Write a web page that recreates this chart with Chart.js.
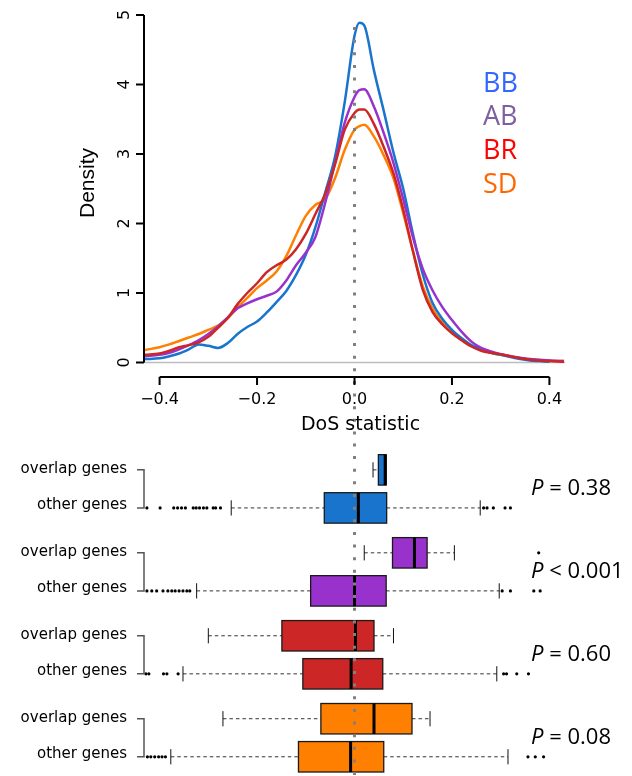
<!DOCTYPE html>
<html>
<head>
<meta charset="utf-8">
<script src="https://cdn.jsdelivr.net/npm/chart.js@4"></script>
<style>
  html, body { margin: 0; padding: 0; background: #fff; }
  #wrap { position: relative; width: 632px; height: 776px; overflow: hidden; }
  canvas { position: absolute; left: 0; }
  #densityChart { top: 0; }
  #boxChart { top: 440px; }
</style>
</head>
<body>
<div id="wrap">
  <canvas id="densityChart" width="632" height="440"></canvas>
  <canvas id="boxChart" width="632" height="336"></canvas>
</div>
<script>
// --- data ---
const groups = ["BB", "AB", "BR", "SD"];
const dosX = [-0.43, -0.40, -0.38, -0.36, -0.34, -0.32, -0.30, -0.28, -0.26, -0.24,
              -0.22, -0.20, -0.18, -0.16, -0.14, -0.12, -0.10, -0.08, -0.06, -0.04,
              -0.02, 0.00, 0.01, 0.02, 0.04, 0.06, 0.08, 0.10, 0.12, 0.14,
              0.16, 0.18, 0.20, 0.22, 0.24, 0.26, 0.28, 0.30, 0.32, 0.34,
              0.36, 0.38, 0.40, 0.43];
const densityBB = [0.05, 0.06, 0.09, 0.13, 0.19, 0.26, 0.24, 0.21, 0.28, 0.41,
                   0.51, 0.59, 0.72, 0.87, 1.03, 1.26, 1.55, 1.95, 2.45, 2.96,
                   3.75, 4.70, 4.89, 4.85, 4.20, 3.62, 3.02, 2.50, 1.85, 1.27,
                   0.86, 0.63, 0.47, 0.35, 0.25, 0.19, 0.14, 0.11, 0.08, 0.05,
                   0.03, 0.02, 0.01, null];
const densityAB = [0.09, 0.11, 0.14, 0.19, 0.25, 0.32, 0.41, 0.52, 0.65, 0.78,
                   0.85, 0.91, 0.96, 1.02, 1.18, 1.40, 1.58, 1.81, 2.30, 2.87,
                   3.45, 3.82, 3.92, 3.93, 3.68, 3.30, 2.87, 2.35, 1.80, 1.35,
                   1.04, 0.80, 0.61, 0.44, 0.30, 0.21, 0.16, 0.12, 0.09, 0.07,
                   0.05, 0.04, 0.03, 0.02];
const densityBR = [0.11, 0.13, 0.17, 0.22, 0.25, 0.29, 0.37, 0.50, 0.64, 0.84,
                   1.00, 1.14, 1.30, 1.40, 1.48, 1.63, 1.85, 2.14, 2.43, 2.85,
                   3.35, 3.59, 3.64, 3.64, 3.43, 3.10, 2.72, 2.20, 1.60, 1.05,
                   0.73, 0.55, 0.42, 0.32, 0.23, 0.17, 0.14, 0.12, 0.09, 0.06,
                   0.04, 0.03, 0.02, 0.01];
const densitySD = [0.18, 0.22, 0.26, 0.31, 0.36, 0.41, 0.47, 0.53, 0.64, 0.79,
                   0.93, 1.07, 1.18, 1.31, 1.53, 1.83, 2.11, 2.27, 2.35, 2.65,
                   3.06, 3.35, 3.40, 3.42, 3.25, 2.98, 2.65, 2.15, 1.60, 1.10,
                   0.78, 0.58, 0.44, 0.33, 0.24, 0.18, 0.14, 0.11, 0.09, 0.06,
                   0.04, 0.03, 0.025, 0.02];
const xTicks = [-0.4, -0.2, 0.0, 0.2, 0.4];
const yTicks = [0, 1, 2, 3, 4, 5];

// box plots: rows = BB overlap, BB other, AB overlap, AB other, BR overlap, BR other, SD overlap, SD other
const rowLabels = ["overlap genes", "other genes"];
const whiskerLow  = [0.038, -0.253, 0.020, -0.324, -0.300, -0.352, -0.270, -0.377];
const quartile1   = [0.049, -0.062, 0.078, -0.090, -0.149, -0.106, -0.069, -0.115];
const medians     = [0.063,  0.008, 0.123,  0.000,  0.002, -0.007,  0.040, -0.008];
const quartile3   = [0.065,  0.066, 0.149,  0.065,  0.040,  0.058,  0.118,  0.060];
const whiskerHigh = [0.065,  0.258, 0.205,  0.297,  0.080,  0.292,  0.155,  0.315];
const outliers = [
  [],
  [-0.426, -0.399, -0.371, -0.363, -0.355, -0.347, -0.331, -0.325, -0.318, -0.31, -0.303, -0.29, -0.285, -0.275,
   0.265, 0.272, 0.285, 0.309, 0.32],
  [0.378],
  [-0.426, -0.416, -0.406, -0.393, -0.383, -0.375, -0.368, -0.36, -0.352, -0.344, -0.338,
   0.303, 0.32, 0.368, 0.381],
  [],
  [-0.428, -0.422, -0.392, -0.385, -0.362, 0.306, 0.312, 0.333, 0.357],
  [],
  [-0.425, -0.418, -0.41, -0.402, -0.395, -0.388, 0.356, 0.371, 0.388]
];
const pLabels = ["= 0.38", "< 0.001", "= 0.60", "= 0.08"];

// --- styles ---
const lineColors = { BB: "#1874CD", AB: "#9932CC", BR: "#CD2626", SD: "#FF7F00" };
const legendColors = { BB: "#3366FF", AB: "#7F5FA0", BR: "#FF0000", SD: "#FF6600" };

function rowPos(i) { return Math.floor(i / 2) * 2.18 + (i % 2); }

// dotted zero line, shared between both canvases
function drawZeroDots(chart, yStart, offset) {
  const ctx = chart.ctx;
  const x = chart.scales.x.getPixelForValue(0);
  ctx.save();
  ctx.strokeStyle = "#808080";
  ctx.lineWidth = 3;
  ctx.setLineDash([3, 9.64]);
  ctx.lineDashOffset = offset;
  ctx.beginPath();
  ctx.moveTo(x, yStart);
  ctx.lineTo(x, chart.height);
  ctx.stroke();
  ctx.restore();
}

const densityDecor = {
  id: "densityDecor",
  beforeDatasetsDraw(chart) {
    const { ctx, chartArea, scales } = chart;
    const y0 = scales.y.getPixelForValue(0);
    ctx.save();
    ctx.strokeStyle = "#bdbdbd";
    ctx.lineWidth = 1.5;
    ctx.beginPath();
    ctx.moveTo(chartArea.left, y0);
    ctx.lineTo(chartArea.right, y0);
    ctx.stroke();
    ctx.restore();
  },
  afterDatasetsDraw(chart) {
    drawZeroDots(chart, 27, 0);
  },
  afterDraw(chart) {
    const { ctx, scales } = chart;
    const xs = scales.x, ys = scales.y;
    ctx.save();
    ctx.strokeStyle = "#000";
    ctx.fillStyle = "#000";
    ctx.lineWidth = 2;
    // y axis
    const axX = 144;
    ctx.beginPath();
    ctx.moveTo(axX, ys.getPixelForValue(yTicks[0]));
    ctx.lineTo(axX, ys.getPixelForValue(yTicks[yTicks.length - 1]));
    yTicks.forEach(t => {
      const py = ys.getPixelForValue(t);
      ctx.moveTo(axX, py);
      ctx.lineTo(axX - 8, py);
    });
    ctx.stroke();
    ctx.font = "16px 'DejaVu Sans', sans-serif";
    ctx.textAlign = "center";
    ctx.textBaseline = "alphabetic";
    yTicks.forEach(t => {
      const py = ys.getPixelForValue(t);
      ctx.save();
      ctx.translate(128.5, py);
      ctx.rotate(-Math.PI / 2);
      ctx.fillText(String(t), 0, 0);
      ctx.restore();
    });
    // x axis
    const axY = 377;
    ctx.beginPath();
    ctx.moveTo(xs.getPixelForValue(xTicks[0]), axY);
    ctx.lineTo(xs.getPixelForValue(xTicks[xTicks.length - 1]), axY);
    xTicks.forEach(t => {
      const px = xs.getPixelForValue(t);
      ctx.moveTo(px, axY);
      ctx.lineTo(px, axY + 8);
    });
    ctx.stroke();
    xTicks.forEach(t => {
      const px = xs.getPixelForValue(t);
      ctx.fillText(t.toFixed(1).replace("-", "\u2212"), px, 403.5);
    });
    // axis titles
    ctx.font = "21px 'Liberation Sans', Arial, sans-serif";
    ctx.save();
    ctx.translate(93.5, 183);
    ctx.rotate(-Math.PI / 2);
    ctx.fillText("Density", 0, 0);
    ctx.restore();
    ctx.font = "19px 'DejaVu Sans', sans-serif";
    ctx.fillText("DoS statistic", 360.5, 430);
    // legend
    ctx.font = "27px 'Open Sans', sans-serif";
    ctx.textAlign = "left";
    groups.forEach((g, i) => {
      ctx.fillStyle = legendColors[g];
      ctx.fillText(g, 483, 91.5 + i * 33.7);
    });
    ctx.restore();
  }
};

const densitySeries = { BB: densityBB, AB: densityAB, BR: densityBR, SD: densitySD };
const drawOrder = { BR: 0, AB: 1, BB: 2, SD: 3 };

new Chart(document.getElementById("densityChart"), {
  type: "line",
  data: {
    datasets: groups.map(g => ({
      label: g,
      data: dosX.map((x, i) => ({ x: x, y: densitySeries[g][i] })),
      borderColor: lineColors[g],
      borderWidth: 2.5,
      pointRadius: 0,
      fill: false,
      cubicInterpolationMode: "monotone",
      order: drawOrder[g]
    }))
  },
  options: {
    responsive: false,
    animation: false,
    layout: { padding: { left: 144, right: 67, top: 8.05, bottom: 63.6 } },
    plugins: { legend: { display: false }, tooltip: { enabled: false } },
    scales: {
      x: { type: "linear", min: -0.432, max: 0.432, display: false },
      y: { type: "linear", min: -0.2, max: 5.1, display: false }
    }
  },
  plugins: [densityDecor]
});

// --- box plots ---
const boxDecor = {
  id: "boxDecor",
  beforeDatasetsDraw(chart) {
    const { ctx, scales } = chart;
    const xs = scales.x, ys = scales.y;
    ctx.save();
    medians.forEach((m, i) => {
      const g = groups[Math.floor(i / 2)];
      const yc = ys.getPixelForValue(rowPos(i));
      const half = Math.abs(ys.getPixelForValue(rowPos(i) + 0.4) - yc);
      const stap = half / 2;
      const xLo = xs.getPixelForValue(whiskerLow[i]);
      const xQ1 = xs.getPixelForValue(quartile1[i]);
      const xMd = xs.getPixelForValue(m);
      const xQ3 = xs.getPixelForValue(quartile3[i]);
      const xHi = xs.getPixelForValue(whiskerHigh[i]);
      // whiskers
      ctx.strokeStyle = "#333";
      ctx.lineWidth = 1;
      ctx.setLineDash([3.5, 3]);
      ctx.beginPath();
      if (xLo < xQ1) { ctx.moveTo(xLo, yc); ctx.lineTo(xQ1, yc); }
      if (xHi > xQ3) { ctx.moveTo(xQ3, yc); ctx.lineTo(xHi, yc); }
      ctx.stroke();
      ctx.setLineDash([]);
      ctx.strokeStyle = "#111";
      ctx.beginPath();
      if (xLo < xQ1) { ctx.moveTo(xLo, yc - stap); ctx.lineTo(xLo, yc + stap); }
      if (xHi > xQ3) { ctx.moveTo(xHi, yc - stap); ctx.lineTo(xHi, yc + stap); }
      ctx.stroke();
      // box
      ctx.fillStyle = lineColors[g];
      ctx.fillRect(xQ1, yc - half, xQ3 - xQ1, 2 * half);
      ctx.strokeStyle = "#1a1a1a";
      ctx.lineWidth = 1.3;
      ctx.strokeRect(xQ1, yc - half, xQ3 - xQ1, 2 * half);
      // median
      ctx.strokeStyle = "#000";
      ctx.lineWidth = 3;
      ctx.beginPath();
      ctx.moveTo(xMd, yc - half);
      ctx.lineTo(xMd, yc + half);
      ctx.stroke();
    });
    ctx.restore();
  },
  afterDatasetsDraw(chart) {
    drawZeroDots(chart, 0, 9.2);
  },
  afterDraw(chart) {
    const { ctx, scales } = chart;
    const ys = scales.y;
    ctx.save();
    // row labels and brackets
    ctx.font = "15px 'DejaVu Sans', sans-serif";
    ctx.fillStyle = "#000";
    ctx.textAlign = "right";
    ctx.textBaseline = "alphabetic";
    medians.forEach((m, i) => {
      const py = ys.getPixelForValue(rowPos(i));
      ctx.fillText(rowLabels[i % 2], 127, py + (i % 2 === 0 ? 3 : 1));
    });
    ctx.strokeStyle = "#555";
    ctx.lineWidth = 1.5;
    groups.forEach((g, k) => {
      const a = ys.getPixelForValue(rowPos(2 * k));
      const b = ys.getPixelForValue(rowPos(2 * k + 1));
      ctx.beginPath();
      ctx.moveTo(137, a);
      ctx.lineTo(144, a);
      ctx.lineTo(144, b);
      ctx.lineTo(137, b);
      ctx.stroke();
    });
    // P values
    ctx.textAlign = "left";
    groups.forEach((g, k) => {
      const mid = (ys.getPixelForValue(rowPos(2 * k)) + ys.getPixelForValue(rowPos(2 * k + 1))) / 2;
      const base = mid + 6;
      ctx.font = "italic 22px 'Open Sans', sans-serif";
      ctx.fillText("P", 531, base);
      const w = ctx.measureText("P").width;
      ctx.font = "22px 'Open Sans', sans-serif";
      ctx.fillText(" " + pLabels[k], 531 + w, base);
    });
    ctx.restore();
  }
};

const outlierPoints = [];
outliers.forEach((list, i) => list.forEach(v => outlierPoints.push({ x: v, y: rowPos(i) })));

new Chart(document.getElementById("boxChart"), {
  type: "scatter",
  data: {
    datasets: [{
      label: "outliers",
      data: outlierPoints,
      pointRadius: 1.6,
      pointBackgroundColor: "#000",
      pointBorderWidth: 0,
      clip: false
    }]
  },
  options: {
    responsive: false,
    animation: false,
    layout: { padding: { left: 144, right: 67, top: 0, bottom: 0 } },
    plugins: { legend: { display: false }, tooltip: { enabled: false } },
    scales: {
      x: { type: "linear", min: -0.432, max: 0.432, display: false },
      y: { type: "linear", min: -0.68, max: 7.94, reverse: true, display: false }
    }
  },
  plugins: [boxDecor]
});
</script>
</body>
</html>
